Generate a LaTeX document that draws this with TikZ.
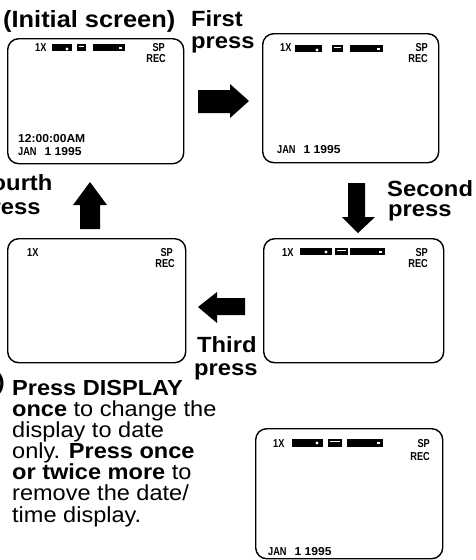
\documentclass[tikz,border=0pt]{standalone}
\usepackage{fontspec}
\usepackage{graphicx}
\setmainfont{Liberation Sans}[FakeStretch=1.08]
\newfontfamily\scrN{Liberation Sans}[FakeStretch=0.8]
\newfontfamily\scrW{Liberation Sans}[FakeStretch=1.05]
\begin{document}
\begin{tikzpicture}[x=1pt,y=-1pt,
  lbl/.style={anchor=base west, inner sep=0pt, font=\fontsize{22}{22}\selectfont\bfseries},
  txt/.style={anchor=base west, inner sep=0pt, font=\fontsize{21.8}{21.3}\selectfont},
  screen/.style={draw, line width=1.4pt, rounded corners=11pt, inner sep=0pt, anchor=north west},
  sn/.style={inner sep=0pt, font=\scrN\bfseries\fontsize{11.5}{11.5}\selectfont},
  sw/.style={inner sep=0pt, anchor=base west, font=\scrW\bfseries\fontsize{11.5}{11.5}\selectfont},
  blockarrow/.style={fill=black}
]
\useasboundingbox (0,0) rectangle (475,560);

% screens
\node[screen, minimum width=176pt, minimum height=125pt] (s1) at (7,38) {};
\node[screen, minimum width=176pt, minimum height=129pt] (s2) at (262,33) {};
\node[screen, minimum width=180pt, minimum height=124pt] (s3) at (263,238) {};
\node[screen, minimum width=178pt, minimum height=124pt] (s4) at (7,238) {};
\node[screen, minimum width=187pt, minimum height=130pt] (s5) at (255,428) {};

% screen 1 contents
\node[sn, anchor=base west] (s1x) at (35,51) {1X};
\fill (52,44) rectangle (72,51);
\fill[white] (67,49) circle (1.6);
\fill (77,44) rectangle (86,51);
\draw[white, line width=0.7pt] (79,46.5) -- (84,46.5);
\fill (93,44) rectangle (125,51);
\fill[white] (119,46.5) rectangle (121.5,48.5);
\node[sn, anchor=base east] (s1sp) at (165,51) {SP};
\node[sn, anchor=base east] (s1rec) at (166,62) {REC};
\node[sw] (s1time) at (18,142) {12:00:00AM};
\node[sw] (s1date) at (18,155) {{\scrN JAN}\hspace{8pt}1 1995};

% screen 2 contents
\node[sn, anchor=base west] (s2x) at (280,51) {1X};
\fill (295,45) rectangle (322,52);
\fill[white] (317,50) circle (1.6);
\fill (332,45) rectangle (343,52);
\draw[white, line width=0.7pt] (334,47.5) -- (341,47.5);
\fill (350,45) rectangle (383,52);
\fill[white] (377,47.5) rectangle (379.5,49.5);
\node[sn, anchor=base east] (s2sp) at (428,51) {SP};
\node[sn, anchor=base east] (s2rec) at (428,62) {REC};
\node[sw] (s2date) at (277,153) {{\scrN JAN}\hspace{8pt}1 1995};

% screen 3 contents
\node[sn, anchor=base west] (s3x) at (282,256) {1X};
\fill (300,248) rectangle (332,255);
\fill[white] (326,252) circle (1.6);
\fill (335,248) rectangle (348,255);
\draw[white, line width=0.7pt] (337,250.5) -- (346,250.5);
\fill (350,248) rectangle (385,255);
\fill[white] (379,250.5) rectangle (381.5,252.5);
\node[sn, anchor=base east] (s3sp) at (428,256) {SP};
\node[sn, anchor=base east] (s3rec) at (428,267) {REC};

% screen 4 contents
\node[sn, anchor=base west] (s4x) at (27,256) {1X};
\node[sn, anchor=base east] (s4sp) at (173,256) {SP};
\node[sn, anchor=base east] (s4rec) at (175,267) {REC};

% screen 5 contents
\node[sn, anchor=base west] (s5x) at (273,447) {1X};
\fill (292,439) rectangle (323,447);
\fill[white] (317,443) circle (1.6);
\fill (328,439) rectangle (342,447);
\draw[white, line width=0.7pt] (330,441.5) -- (340,441.5);
\fill (347,439) rectangle (383,447);
\fill[white] (377,441.5) rectangle (379.5,443.5);
\node[sn, anchor=base east] (s5sp) at (430,447) {SP};
\node[sn, anchor=base east] (s5rec) at (430,460) {REC};
\node[sw] (s5date) at (268,555) {{\scrN JAN}\hspace{8pt}1 1995};

% block arrows
\fill[blockarrow] (198,90) -- (230,90) -- (230,84) -- (249,101) -- (230,118) -- (230,113) -- (198,113) -- cycle;
\fill[blockarrow] (348,183) -- (365,183) -- (365,217) -- (375,217) -- (358,233) -- (342,217) -- (348,217) -- cycle;
\fill[blockarrow] (80,229) -- (80,205) -- (73,205) -- (90,182) -- (107,205) -- (100,205) -- (100,229) -- cycle;
\fill[blockarrow] (245,298) -- (217,298) -- (217,292) -- (198,307) -- (217,323) -- (217,315) -- (245,315) -- cycle;

% labels
\node[lbl, font=\fontsize{23.5}{23.5}\selectfont\bfseries] (linit) at (3,27) {(Initial screen)};
\node[lbl] (l1a) at (191,26) {First};
\node[lbl] (l1b) at (191,48) {press};
\node[lbl] (l2a) at (387,196) {Second};
\node[lbl] (l2b) at (388,216) {press};
\node[lbl] (l3a) at (197,352) {Third};
\node[lbl] (l3b) at (194,375) {press};
\node[lbl] (l4a) at (-23,190) {Fourth};
\node[lbl] (l4b) at (-23,214) {press};
\node[lbl, anchor=base east] (paren) at (5,389) {)};

% body text
\node[txt] (t1) at (12,395) {\bfseries Press DISPLAY};
\node[txt] (t2) at (12,416) {\textbf{once} to change the};
\node[txt] (t3) at (12,437) {display to date};
\node[txt] (t4) at (12,458) {only. \textbf{Press once}};
\node[txt] (t5) at (12,479) {\textbf{or twice more} to};
\node[txt] (t6) at (12,500) {remove the date/};
\node[txt] (t7) at (12,522) {time display.};
\end{tikzpicture}
\end{document}
